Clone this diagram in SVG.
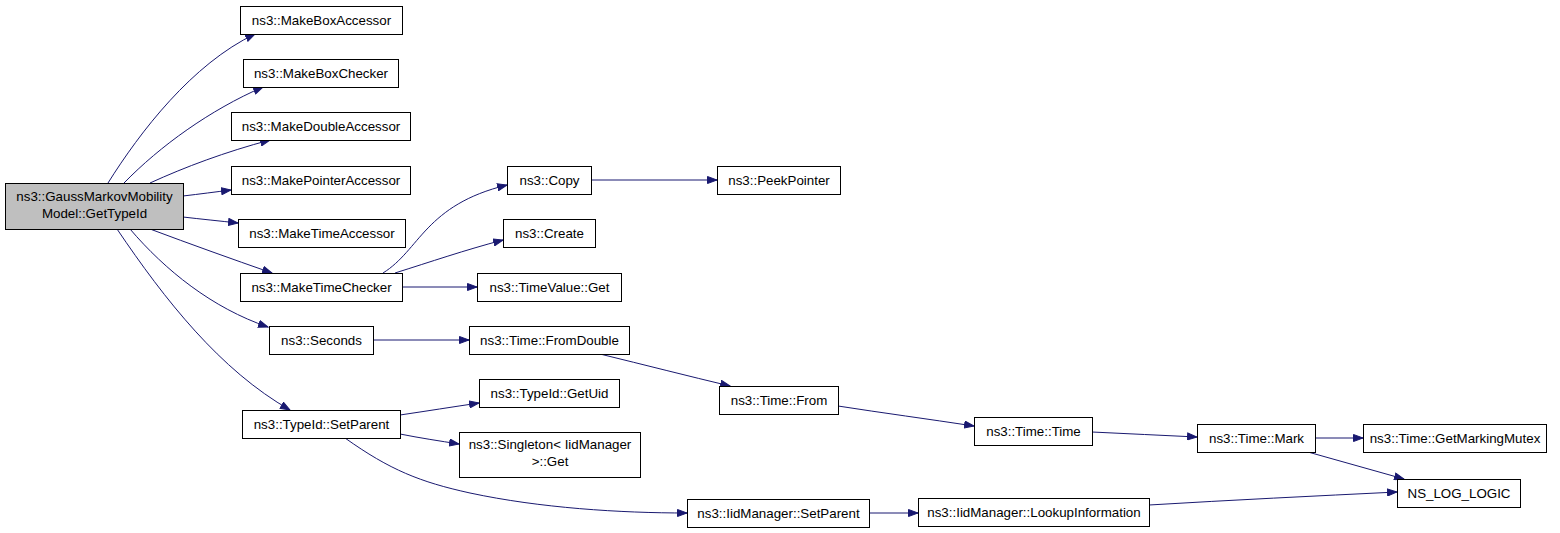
<svg xmlns="http://www.w3.org/2000/svg" width="1560" height="533" viewBox="0 0 1560 533">
<style>
.n rect{fill:#ffffff;stroke:#000000;stroke-width:1}
.n text{font-family:"Liberation Sans",Arial,sans-serif;font-size:13.33px;text-anchor:middle;fill:#000000}
#edges path{fill:none;stroke:#191970;stroke-width:1;marker-end:url(#ah)}
</style>
<defs>
<marker id="ah" markerWidth="11" markerHeight="8" refX="10" refY="4" orient="auto" markerUnits="userSpaceOnUse">
<path d="M0.5,0.5 L10,4 L0.5,7.5 z" fill="#191970" stroke="#191970" stroke-width="1"/>
</marker>
</defs>
<rect width="1560" height="533" fill="#ffffff"/>
<g id="edges">
<path d="M108,183 C140,132 192,64 255,34"/>
<path d="M124,183 C160,146 210,110 263,87"/>
<path d="M150,183 C185,167 225,152 270,140"/>
<path d="M183,196 C200,194 215,192 231,190"/>
<path d="M183,217 C200,219 220,221 238,223"/>
<path d="M150,229 C190,244 232,259 272,273"/>
<path d="M130,229 C165,270 212,308 268,327"/>
<path d="M117,229 C165,300 220,370 290,410"/>
<path d="M383,273 C420,250 425,205 507,185"/>
<path d="M395,273 C430,262 465,250 503,240"/>
<path d="M402,287 L477,287"/>
<path d="M591,180 L717,180"/>
<path d="M373,340 L469,340"/>
<path d="M600,354 C645,365 688,376 730,386"/>
<path d="M838,406 C883,413 928,419 974,426"/>
<path d="M1092,432 C1127,434 1162,435 1197,437"/>
<path d="M1315,438 L1363,438"/>
<path d="M1308,452 C1340,461 1372,470 1404,479"/>
<path d="M1149,505 C1232,500 1315,496 1397,492"/>
<path d="M869,513 L918,513"/>
<path d="M400,415 C427,411 452,407 479,403"/>
<path d="M400,434 C420,438 440,441 459,444"/>
<path d="M345,438 C390,470 420,482 470,493 C540,508 620,513 687,513"/>
</g>
<g id="root" class="n"><rect x="5.5" y="183.5" width="178" height="46" style="fill:#bfbfbf"/><text x="94.5" y="201">ns3::GaussMarkovMobility</text><text x="94.5" y="218">Model::GetTypeId</text></g>
<g id="makeBoxAccessor" class="n"><rect x="240.5" y="6.5" width="162" height="28"/><text x="321.5" y="24.5">ns3::MakeBoxAccessor</text></g>
<g id="makeBoxChecker" class="n"><rect x="243.5" y="59.5" width="155" height="28"/><text x="321" y="77.5">ns3::MakeBoxChecker</text></g>
<g id="makeDoubleAccessor" class="n"><rect x="231.5" y="112.5" width="179" height="28"/><text x="321" y="130.5">ns3::MakeDoubleAccessor</text></g>
<g id="makePointerAccessor" class="n"><rect x="231.5" y="166.5" width="179" height="28"/><text x="321" y="184.5">ns3::MakePointerAccessor</text></g>
<g id="makeTimeAccessor" class="n"><rect x="238.5" y="219.5" width="167" height="28"/><text x="322" y="237.5">ns3::MakeTimeAccessor</text></g>
<g id="makeTimeChecker" class="n"><rect x="240.5" y="273.5" width="162" height="28"/><text x="321.5" y="291.5">ns3::MakeTimeChecker</text></g>
<g id="seconds" class="n"><rect x="269.5" y="326.5" width="104" height="28"/><text x="321.5" y="344.5">ns3::Seconds</text></g>
<g id="typeIdSetParent" class="n"><rect x="242.5" y="410.5" width="158" height="28"/><text x="321.5" y="428.5">ns3::TypeId::SetParent</text></g>
<g id="copy" class="n"><rect x="507.5" y="166.5" width="84" height="28"/><text x="549.5" y="184.5">ns3::Copy</text></g>
<g id="peekPointer" class="n"><rect x="717.5" y="166.5" width="123" height="28"/><text x="779" y="184.5">ns3::PeekPointer</text></g>
<g id="create" class="n"><rect x="503.5" y="219.5" width="92" height="28"/><text x="549.5" y="237.5">ns3::Create</text></g>
<g id="timeValueGet" class="n"><rect x="477.5" y="273.5" width="144" height="28"/><text x="549.5" y="291.5">ns3::TimeValue::Get</text></g>
<g id="timeFromDouble" class="n"><rect x="469.5" y="326.5" width="160" height="28"/><text x="549.5" y="344.5">ns3::Time::FromDouble</text></g>
<g id="typeIdGetUid" class="n"><rect x="479.5" y="379.5" width="140" height="28"/><text x="549.5" y="397.5">ns3::TypeId::GetUid</text></g>
<g id="singletonGet" class="n"><rect x="459.5" y="432.5" width="181" height="45"/><text x="550" y="448.5">ns3::Singleton&lt; IidManager</text><text x="550" y="465.5">&gt;::Get</text></g>
<g id="timeFrom" class="n"><rect x="719.5" y="386.5" width="119" height="28"/><text x="779" y="404.5">ns3::Time::From</text></g>
<g id="iidSetParent" class="n"><rect x="687.5" y="499.5" width="182" height="28"/><text x="778.5" y="517.5">ns3::IidManager::SetParent</text></g>
<g id="timeTime" class="n"><rect x="974.5" y="417.5" width="118" height="28"/><text x="1033.5" y="435.5">ns3::Time::Time</text></g>
<g id="lookupInformation" class="n"><rect x="918.5" y="498.5" width="231" height="28"/><text x="1034" y="516.5">ns3::IidManager::LookupInformation</text></g>
<g id="timeMark" class="n"><rect x="1197.5" y="424.5" width="118" height="28"/><text x="1256.5" y="442.5">ns3::Time::Mark</text></g>
<g id="getMarkingMutex" class="n"><rect x="1363.5" y="424.5" width="183" height="28"/><text x="1455" y="442.5">ns3::Time::GetMarkingMutex</text></g>
<g id="nsLogLogic" class="n"><rect x="1397.5" y="479.5" width="123" height="28"/><text x="1459" y="497.5">NS_LOG_LOGIC</text></g>
</svg>
